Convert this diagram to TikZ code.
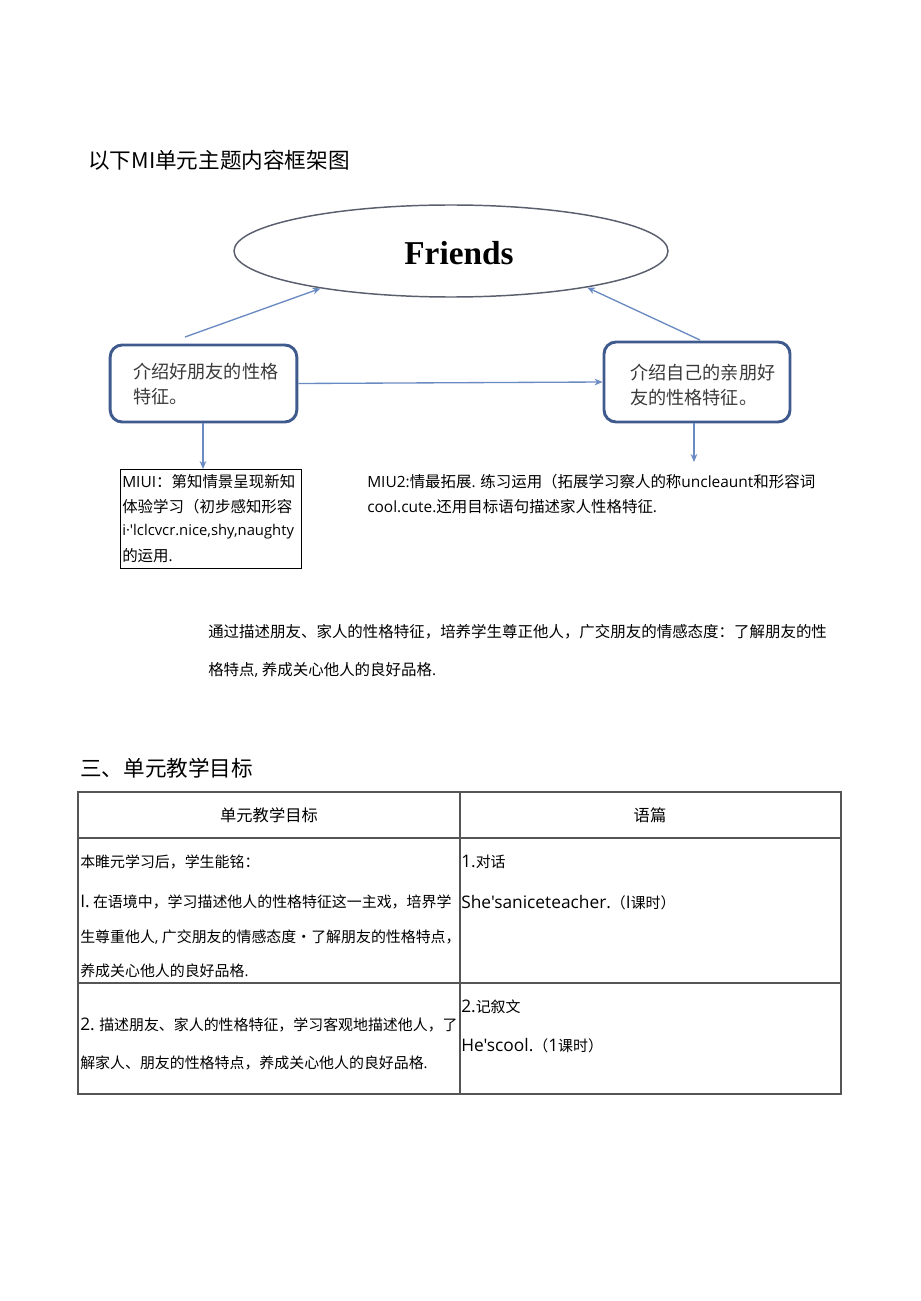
\documentclass[tikz,border=0pt]{standalone}
\usepackage{fontspec}
\setmainfont{Noto Sans CJK SC}
\newfontfamily\friendsfont{Liberation Serif}
\newfontfamily\latf{Open Sans}
\newcommand\lat[1]{{\latf #1}}
\newcommand\latb[1]{{\latf\fontsize{13}{15}\selectfont #1}}
\usetikzlibrary{arrows.meta,shapes.geometric}
\definecolor{boxblue}{HTML}{3F5B8E}
\definecolor{arrowblue}{HTML}{6A8AC2}
\definecolor{ellgray}{HTML}{5A5F6E}
\definecolor{txtgray}{HTML}{3A3A3A}
\definecolor{tblgray}{HTML}{555555}
\begin{document}
\begin{tikzpicture}[x=0.75pt,y=-0.75pt,
  txt/.style={anchor=west,inner sep=0pt,font=\fontsize{11.2}{14}\selectfont},
  smalltxt/.style={anchor=west,inner sep=0pt,font=\fontsize{11.6}{14}\selectfont},
  boxtxt/.style={anchor=west,inner sep=0pt,text=txtgray,font=\fontsize{13.6}{16}\selectfont},
  headtxt/.style={anchor=west,inner sep=0pt,font=\fontsize{16.2}{20}\selectfont},
  rbox/.style={draw=boxblue,line width=2.2pt,rounded corners=9pt,fill=white},
  arr/.style={draw=arrowblue,line width=1pt,-{Stealth[length=6pt,width=5pt]}},
  tbl/.style={draw=tblgray,line width=0.8pt}]
\useasboundingbox (0,0) rectangle (920,1301);

% title
\node[headtxt] (title) at (88,160) {以下MI单元主题内容框架图};

% ellipse
\node[ellipse,draw=ellgray,line width=1.1pt,minimum width=325.5pt,minimum height=69pt,inner sep=0pt] (fr) at (451,251) {};
\node[inner sep=0pt,font=\friendsfont\bfseries\fontsize{25}{30}\selectfont] (frt) at (459,253) {Friends};

% rounded boxes
\node[rbox,minimum width=140pt,minimum height=57.75pt,inner sep=0pt] (lb) at (203.5,383.5) {};
\node[boxtxt] (lb1) at (133,372) {介绍好朋友的性格};
\node[boxtxt] (lb2) at (133,397) {特征。};
\node[rbox,minimum width=139.5pt,minimum height=60pt,inner sep=0pt] (rb) at (697,382) {};
\node[boxtxt] (rb1) at (630,373) {介绍自己的亲朋好};
\node[boxtxt] (rb2) at (630,398) {友的性格特征。};

% arrows
\coordinate (la) at (185,337);
\coordinate (ra) at (700,340);
\draw[arr] (la) -- (fr.196);
\draw[arr] (ra) -- (fr.345);
\draw[arr] (lb.east) -- (rb.west);

% MIUI box
\node[draw=black,line width=0.6pt,minimum width=135.75pt,minimum height=74.25pt,inner sep=0pt] (mb) at (210.5,518.5) {};
\coordinate (ld) at (203,469);
\draw[arr] (lb.south -| ld) -- (ld);
\node[smalltxt] (m1) at (122,482) {\lat{MIUI}：第知情景呈现新知};
\node[smalltxt] (m2) at (122,507) {体验学习（初步感知形容};
\node[smalltxt,font=\fontsize{11.1}{14}\selectfont] (m3) at (122,532) {\lat{i·'lclcvcr.nice,shy,naughty}};
\node[smalltxt] (m4) at (122,556) {的运用\lat{.}};

% MIU2
\coordinate (rd) at (694,462);
\draw[arr] (rb.south -| rd) -- (rd);
\node[smalltxt] (u1) at (367,482) {\lat{MIU2:}情最拓展\lat{.} 练习运用（拓展学习察人的称\lat{uncleaunt}和形容词};
\node[smalltxt] (u2) at (367,507) {\lat{cool.cute.}还用目标语句描述家人性格特征\lat{.}};

% paragraph
\node[anchor=west,inner sep=0pt,font=\fontsize{11.6}{14}\selectfont] (p1) at (208,632) {通过描述朋友、家人的性格特征，培养学生尊正他人，广交朋友的情感态度：了解朋友的性};
\node[anchor=west,inner sep=0pt,font=\fontsize{11.6}{14}\selectfont] (p2) at (208,670) {格特点\lat{,} 养成关心他人的良好品格\lat{.}};

% section heading
\node[headtxt] (sec) at (80,768) {三、单元教学目标};

% table
\draw[tbl] (78,792) rectangle (841,1094);
\draw[tbl] (78,838) -- (841,838);
\draw[tbl] (78,983) -- (841,983);
\draw[tbl] (460,792) -- (460,1094);
\node[inner sep=0pt,font=\fontsize{12.2}{14}\selectfont] (h1) at (269,815) {单元教学目标};
\node[inner sep=0pt,font=\fontsize{12.2}{14}\selectfont] (h2) at (650,815) {语篇};

\node[txt] (a1) at (80,862) {本睢元学习后，学生能铭：};
\node[txt] (a2) at (80,902) {\latb{I.} 在语境中，学习描述他人的性格特征这一主戏，培界学};
\node[txt] (a3) at (80,937) {生尊重他人\lat{,} 广交朋友的情感态度•了解朋友的性格特点，};
\node[txt] (a4) at (80,971) {养成关心他人的良好品格\lat{.}};
\node[txt] (b1) at (461,862) {\latb{1.}对话};
\node[txt] (b2) at (461,903) {\latb{She'saniceteacher.}（\latb{I}课时）};

\node[txt] (c1) at (80,1025) {\latb{2.} 描述朋友、家人的性格特征，学习客观地描述他人，了};
\node[txt] (c2) at (80,1063) {解家人、朋友的性格特点，养成关心他人的良好品格\lat{.}};
\node[txt] (d1) at (461,1007) {\latb{2.}记叙文};
\node[txt] (d2) at (461,1046) {\latb{He'scool.}（\latb{1}课时）};
\end{tikzpicture}
\end{document}
